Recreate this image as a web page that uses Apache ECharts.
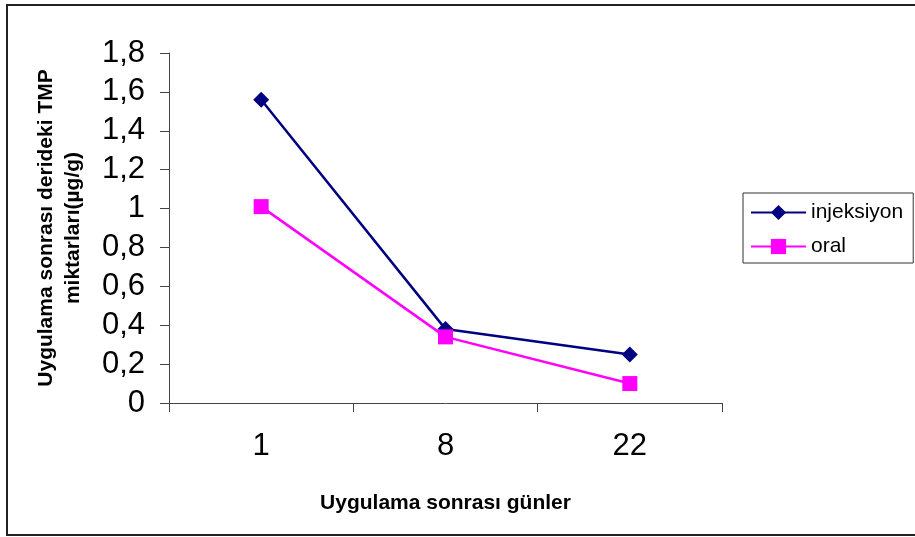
<!DOCTYPE html>
<html>
<head>
<meta charset="utf-8">
<script src="https://cdn.jsdelivr.net/npm/echarts@6/dist/echarts.min.js"></script>
<style>
html,body{margin:0;padding:0;background:#fff;}
#chart{width:915px;height:537px;}
</style>
</head>
<body>
<div id="chart"></div>
<script>
const categories = ['1', '8', '22'];
const injeksiyon = [1.56, 0.38, 0.25];
const oral = [1.01, 0.34, 0.10];
const yTicks = { min: 0, max: 1.8, interval: 0.2 };

const chart = echarts.init(document.getElementById('chart'));
const font = '"Liberation Sans", Arial, sans-serif';
chart.setOption({
  backgroundColor: '#ffffff',
  animation: false,
  graphic: [{
    type: 'rect',
    shape: { x: 7, y: 5, width: 915, height: 530 },
    style: { fill: 'none', stroke: '#222', lineWidth: 2 },
    silent: true
  }],
  grid: { left: 169, right: 193, top: 53, bottom: 134 },
  legend: {
    orient: 'vertical',
    left: 743, top: 193,
    padding: [9, 10, 6, 7],
    itemWidth: 55, itemHeight: 19, itemGap: 13,
    borderColor: '#333', borderWidth: 1,
    textStyle: { fontFamily: font, fontSize: 21, color: '#000', lineHeight: 20, padding: [0, 0, 0, 0] },
    data: ['injeksiyon', 'oral']
  },
  xAxis: {
    type: 'category',
    data: categories,
    boundaryGap: true,
    name: 'Uygulama sonrası günler',
    nameLocation: 'middle',
    nameGap: 90,
    nameTextStyle: { fontFamily: font, fontSize: 21, fontWeight: 'bold', color: '#000' },
    axisLine: { lineStyle: { color: '#444', width: 1 } },
    axisTick: { show: true, length: 9, alignWithLabel: false, lineStyle: { color: '#444' } },
    axisLabel: { fontFamily: font, fontSize: 31, color: '#000', margin: 28 },
    splitLine: { show: false }
  },
  yAxis: {
    type: 'value',
    min: yTicks.min, max: yTicks.max, interval: yTicks.interval,
    name: 'Uygulama sonrası derideki TMP\nmiktarları(µg/g)',
    nameLocation: 'middle',
    nameRotate: 90,
    nameGap: 82,
    nameTextStyle: { fontFamily: font, fontSize: 21, fontWeight: 'bold', color: '#000', lineHeight: 27 },
    axisLine: { show: true, lineStyle: { color: '#444', width: 1 } },
    axisTick: { show: true, length: 9, lineStyle: { color: '#444' } },
    axisLabel: {
      fontFamily: font, fontSize: 31, color: '#000', margin: 24,
      formatter: v => String(+v.toFixed(1)).replace('.', ',')
    },
    splitLine: { show: false }
  },
  series: [
    {
      name: 'injeksiyon', type: 'line', data: injeksiyon,
      symbol: 'diamond', symbolSize: 16,
      lineStyle: { color: '#000080', width: 2.5 },
      itemStyle: { color: '#000080' }
    },
    {
      name: 'oral', type: 'line', data: oral,
      symbol: 'rect', symbolSize: 15,
      lineStyle: { color: '#FF00FF', width: 2.5 },
      itemStyle: { color: '#FF00FF' }
    }
  ]
});
</script>
</body>
</html>
